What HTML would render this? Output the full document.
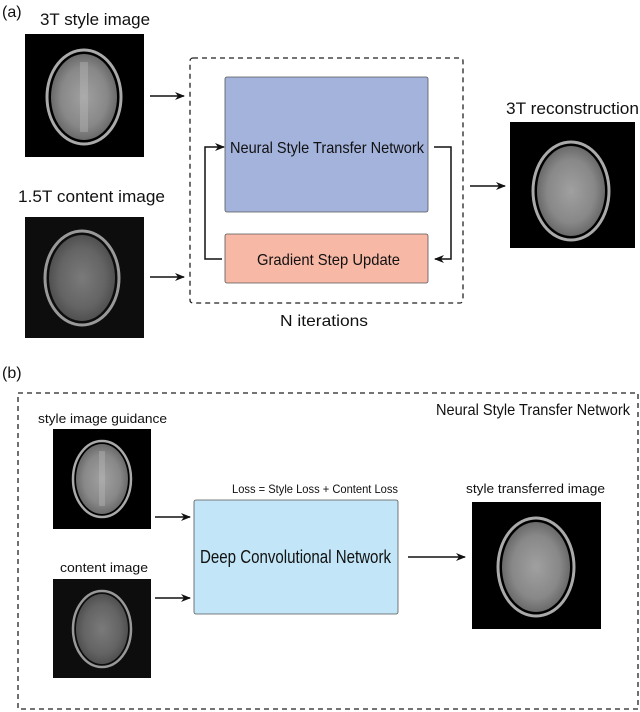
<!DOCTYPE html>
<html><head><meta charset="utf-8"><style>
html,body{margin:0;padding:0;background:#fff}
svg{display:block}
text{font-family:"Liberation Sans Narrow","Liberation Sans",sans-serif;fill:#111}
</style></head><body>
<svg width="640" height="712" viewBox="0 0 640 712" xmlns="http://www.w3.org/2000/svg">
<defs>
<marker id="ah" markerWidth="10" markerHeight="10" refX="9" refY="5" orient="auto" markerUnits="userSpaceOnUse">
<path d="M0,1 L10,5 L0,9 L3,5 Z" fill="#111"/></marker>
<radialGradient id="bs" cx="50%" cy="50%" r="50%"><stop offset="0" stop-color="#a0a0a0"/><stop offset="0.7" stop-color="#888"/><stop offset="1" stop-color="#6a6a6a"/></radialGradient>
<radialGradient id="bc" cx="50%" cy="50%" r="50%"><stop offset="0" stop-color="#7a7a7a"/><stop offset="0.7" stop-color="#646464"/><stop offset="1" stop-color="#505050"/></radialGradient>
</defs>

<!-- (a) -->
<text x="2" y="17" font-size="16">(a)</text>
<text x="40" y="25" font-size="17" textLength="110" lengthAdjust="spacingAndGlyphs">3T style image</text>
<rect x="25" y="34" width="119" height="123" fill="#000"/>
<ellipse cx="84" cy="97" rx="37" ry="47" fill="none" stroke="#aaa" stroke-width="3"/>
<ellipse cx="84" cy="97" rx="33" ry="43" fill="url(#bs)"/>
<rect x="80" y="62" width="8" height="70" fill="#c0c0c0" opacity="0.35"/>

<text x="18" y="202" font-size="17" textLength="147" lengthAdjust="spacingAndGlyphs">1.5T content image</text>
<rect x="25" y="217" width="119" height="121" fill="#0d0d0d"/>
<ellipse cx="82" cy="278" rx="37" ry="47" fill="none" stroke="#999" stroke-width="3"/>
<ellipse cx="82" cy="278" rx="33" ry="43" fill="url(#bc)"/>

<line x1="150" y1="96" x2="184" y2="96" stroke="#111" stroke-width="1.5" marker-end="url(#ah)"/>
<line x1="150" y1="277" x2="184" y2="277" stroke="#111" stroke-width="1.5" marker-end="url(#ah)"/>

<rect x="190" y="58" width="273" height="245" rx="3" fill="none" stroke="#222" stroke-width="1.3" stroke-dasharray="5,4"/>
<rect x="225" y="77" width="203" height="135" rx="2" fill="#a4b3dc" stroke="#555" stroke-width="0.8"/>
<text x="230" y="153" font-size="16" textLength="194" lengthAdjust="spacingAndGlyphs">Neural Style Transfer Network</text>
<rect x="225" y="234" width="203" height="49" rx="2" fill="#f8b8a6" stroke="#555" stroke-width="0.8"/>
<text x="257" y="265" font-size="16" textLength="143" lengthAdjust="spacingAndGlyphs">Gradient Step Update</text>
<polyline points="222,259 205,259 205,147 224,147" fill="none" stroke="#111" stroke-width="1.5" marker-end="url(#ah)"/>
<polyline points="434,147 451,147 451,259 435,259" fill="none" stroke="#111" stroke-width="1.5" marker-end="url(#ah)"/>
<text x="280" y="326" font-size="16" textLength="88" lengthAdjust="spacingAndGlyphs">N iterations</text>

<line x1="470" y1="186" x2="505" y2="186" stroke="#111" stroke-width="1.5" marker-end="url(#ah)"/>
<text x="506" y="114" font-size="17" textLength="133" lengthAdjust="spacingAndGlyphs">3T reconstruction</text>
<rect x="510" y="122" width="125" height="126" fill="#000"/>
<ellipse cx="571" cy="191" rx="38" ry="49" fill="none" stroke="#aaa" stroke-width="3"/>
<ellipse cx="571" cy="191" rx="34" ry="45" fill="url(#bs)"/>

<!-- (b) -->
<text x="2" y="378" font-size="16">(b)</text>
<rect x="18" y="393" width="620" height="316" fill="none" stroke="#222" stroke-width="1.3" stroke-dasharray="5,4"/>
<text x="436" y="415" font-size="16" textLength="194" lengthAdjust="spacingAndGlyphs">Neural Style Transfer Network</text>

<text x="38" y="423" font-size="13" textLength="129" lengthAdjust="spacingAndGlyphs">style image guidance</text>
<rect x="53" y="429" width="98" height="100" fill="#000"/>
<ellipse cx="102" cy="479" rx="29" ry="38" fill="none" stroke="#aaa" stroke-width="2.5"/>
<ellipse cx="102" cy="479" rx="26" ry="35" fill="url(#bs)"/>
<rect x="99" y="451" width="6" height="55" fill="#c0c0c0" opacity="0.35"/>

<text x="60" y="572" font-size="13" textLength="88" lengthAdjust="spacingAndGlyphs">content image</text>
<rect x="53" y="579" width="98" height="99" fill="#0d0d0d"/>
<ellipse cx="102" cy="629" rx="29" ry="38" fill="none" stroke="#999" stroke-width="2.5"/>
<ellipse cx="102" cy="629" rx="26" ry="35" fill="url(#bc)"/>

<line x1="155" y1="517" x2="190" y2="517" stroke="#111" stroke-width="1.5" marker-end="url(#ah)"/>
<line x1="155" y1="598" x2="190" y2="598" stroke="#111" stroke-width="1.5" marker-end="url(#ah)"/>

<text x="232" y="493" font-size="12" textLength="166" lengthAdjust="spacingAndGlyphs">Loss = Style Loss + Content Loss</text>
<rect x="194" y="500" width="204" height="114" rx="2" fill="#c2e6f7" stroke="#555" stroke-width="0.8"/>
<text x="200" y="563" font-size="18" textLength="191" lengthAdjust="spacingAndGlyphs">Deep Convolutional Network</text>

<line x1="408" y1="557" x2="465" y2="557" stroke="#111" stroke-width="1.5" marker-end="url(#ah)"/>
<text x="466" y="493" font-size="13" textLength="139" lengthAdjust="spacingAndGlyphs">style transferred image</text>
<rect x="472" y="502" width="129" height="127" fill="#000"/>
<ellipse cx="536" cy="567" rx="38" ry="49" fill="none" stroke="#aaa" stroke-width="3"/>
<ellipse cx="536" cy="567" rx="34" ry="45" fill="url(#bs)"/>
</svg>
</body></html>
